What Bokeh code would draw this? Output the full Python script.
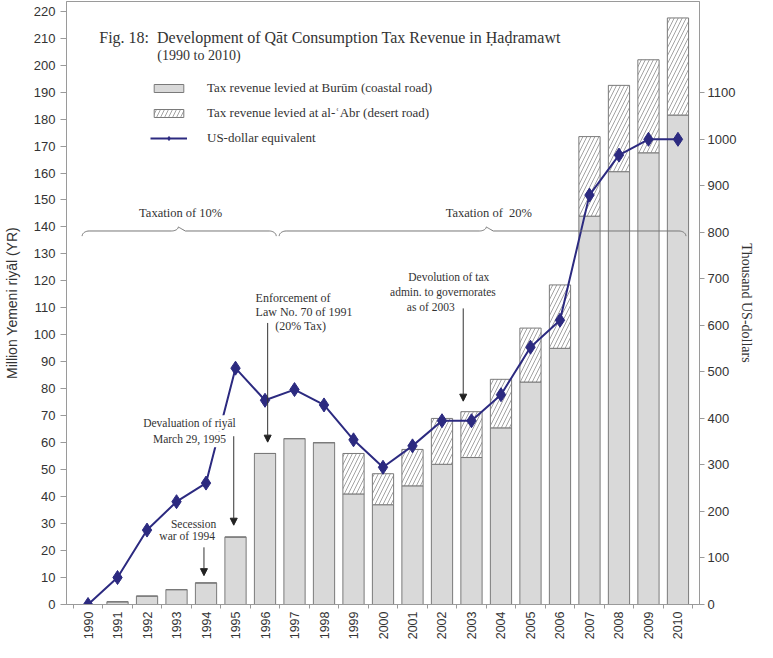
import numpy as np
from bokeh.plotting import figure
from bokeh.models import (Range1d, LinearAxis, FixedTicker, Label, Arrow, NormalHead,
                          Legend, LegendItem, ColumnDataSource)
from bokeh.embed import file_html
from bokeh.resources import INLINE

# ---------------- data ----------------
years = list(range(1990, 2011))
burum = [0, 1, 3.1, 5.5, 8, 25, 56, 61.5, 60, 41, 37, 44, 52, 54.5, 65.5, 82.5, 95,
         144, 160.5, 167.5, 181.5]                      # Million YR, coastal road
abr = [0, 0, 0, 0, 0, 0, 0, 0, 0, 15, 11.5, 13.5, 17, 17, 18, 20, 23.5,
       29.5, 32, 34.5, 36]                              # Million YR, desert road
usd = [0, 58, 160, 221, 261, 508, 439, 462, 429, 354, 295, 341, 395, 395, 451,
       553, 611, 880, 966, 1000, 1000]                  # Thousand US-dollars
left_ticks = list(range(0, 230, 10))
right_ticks = list(range(0, 1200, 100))

total = [b + a for b, a in zip(burum, abr)]
src = ColumnDataSource(dict(year=years, burum=burum, total=total, usd=usd))

SERIF = "Liberation Serif"
SANS = "Liberation Sans"
TXT = "#333333"
AX = "#9a9a9a"

Y_END = 223.6
RATIO = 5.797
X0, X1 = 1989.27, 2010.73

p = figure(width=757, height=642, output_backend="svg", toolbar_location=None,
           x_range=Range1d(X0, X1), y_range=Range1d(0, Y_END),
           min_border_left=62, min_border_right=50, min_border_top=1, min_border_bottom=38)
p.extra_y_ranges = {"usd": Range1d(0, Y_END * RATIO)}
p.xgrid.visible = False
p.ygrid.visible = False
p.outline_line_color = AX
p.background_fill_color = "white"
p.border_fill_color = "white"

# x axis
xax = p.xaxis[0]
xax.ticker = FixedTicker(ticks=years, minor_ticks=[y - 0.5 for y in years] + [2010.5])
xax.major_tick_line_color = None
xax.major_tick_in = 0
xax.major_tick_out = 0
xax.minor_tick_line_color = AX
xax.minor_tick_in = 0
xax.minor_tick_out = 4
xax.axis_line_color = AX
xax.major_label_orientation = np.pi / 2
xax.major_label_text_font = SANS
xax.major_label_text_font_size = "12.5px"
xax.major_label_text_color = TXT
xax.major_label_standoff = 3

# left axis
yax = p.yaxis[0]
yax.ticker = FixedTicker(ticks=left_ticks)
yax.minor_tick_line_color = None
yax.major_tick_in = 0
yax.major_tick_out = 6
yax.major_tick_line_color = AX
yax.axis_line_color = AX
yax.major_label_text_font = SANS
yax.major_label_text_font_size = "13px"
yax.major_label_text_color = TXT
yax.major_label_standoff = 5
yax.axis_label = "Million Yemeni riyāl (YR)"
yax.axis_label_text_font = SANS
yax.axis_label_text_font_style = "normal"
yax.axis_label_text_font_size = "14px"
yax.axis_label_text_color = TXT
yax.axis_label_standoff = 11

# right axis
rax = LinearAxis(y_range_name="usd", ticker=FixedTicker(ticks=right_ticks))
rax.minor_tick_line_color = None
rax.major_tick_in = 0
rax.major_tick_out = 5
rax.major_tick_line_color = AX
rax.axis_line_color = AX
rax.major_label_text_font = SANS
rax.major_label_text_font_size = "13px"
rax.major_label_text_color = TXT
rax.major_label_standoff = 3
rax.axis_label = "Thousand US-dollars"
rax.axis_label_text_font = SERIF
rax.axis_label_text_font_style = "normal"
rax.axis_label_text_font_size = "14px"
rax.axis_label_text_color = TXT
rax.axis_label_standoff = 0
p.add_layout(rax, "right")

# bars
r1 = p.vbar(x="year", top="burum", bottom=0, width=0.72, source=src,
            fill_color="#d9d9d9", line_color="#7a7a7a", line_width=1)
r2 = p.vbar(x="year", top="total", bottom="burum", width=0.72, source=src,
            fill_color="white", hatch_pattern="/", hatch_color="#8c8c8c",
            hatch_scale=8, hatch_weight=0.8, line_color="#7a7a7a", line_width=1)

# USD line
NAVY = "#2c2a80"
rl = p.line(x="year", y="usd", source=src, y_range_name="usd", line_color=NAVY, line_width=2)
rs = p.scatter(x="year", y="usd", source=src, y_range_name="usd", marker="diamond",
               size=14, fill_color=NAVY, line_color=NAVY)

# legend
leg = Legend(items=[
    LegendItem(label="Tax revenue levied at Burūm (coastal road)", renderers=[r1]),
    LegendItem(label="Tax revenue levied at al-ʿAbr (desert road)", renderers=[r2]),
    LegendItem(label="US-dollar equivalent", renderers=[rl, rs]),
], location=(84, 456), glyph_width=37, glyph_height=10, label_height=20,
    label_standoff=20, spacing=5, padding=0, margin=0,
    border_line_color=None, background_fill_alpha=0,
    label_text_font=SERIF, label_text_font_size="13px", label_text_color=TXT)
p.add_layout(leg, "center")

def lab(x, y, t, size="12px", align="left", bg=None, font=SERIF, angle=0):
    kw = dict(x=x, y=y, text=t, text_font=font, text_font_size=size, angle=angle,
              text_color=TXT, text_align=align, text_baseline="middle")
    if bg:
        kw.update(background_fill_color=bg, padding=2)
    p.add_layout(Label(**kw))

# title
NB = "\u00a0"
lab(1990.38, 210.2, "Fig. 18:" + NB + NB + "Development of Qāt Consumption Tax Revenue in Ḥaḍramawt", "16px")
lab(1992.35, 203.5, "(1990 to 2010)", "14px")

# braces
SX = 29.6
def brace(x0, x1, xm, yb, h_end, h_mid):
    e = 7 / SX
    t = np.linspace(0, np.pi / 2, 10)
    xs, ys = [], []
    xs += list(x0 + e * (1 - np.cos(t))); ys += list(yb - h_end + h_end * np.sin(t))
    xs += list(xm - e + e * np.sin(t)); ys += list(yb + h_mid * (1 - np.cos(t)))
    xs += list(xm + e * (1 - np.cos(t))); ys += list(yb + h_mid * np.cos(t))
    xs += list(x1 - e + e * np.sin(t)); ys += list(yb - h_end * (1 - np.cos(t)))
    p.line(xs, ys, line_color="#777777", line_width=1)

brace(1989.80, 1996.38, 1993.06, 138.5, 1.9, 1.5)
brace(1996.48, 2010.27, 2003.50, 138.5, 1.9, 1.5)
lab(1993.14, 145.2, "Taxation of 10%", "12.5px", "center")
lab(2003.59, 145.2, "Taxation of" + NB + NB + "20%", "12.5px", "center")

# annotations
lab(1995.68, 113.6, "Enforcement of", "12px")
lab(1995.68, 108.5, "Law No. 70 of 1991", "12px")
lab(1997.21, 103.3, "(20% Tax)", "12px", "center")
lab(1993.44, 67.2, "Devaluation of riyāl", "11.5px", "center", bg="white")
lab(1993.44, 61.3, "March 29, 1995", "11.5px", "center", bg="white")
lab(1993.58, 30.0, "Secession", "11.5px", "center")
lab(1993.36, 25.4, "war of 1994", "11.5px", "center")
lab(2002.23, 121.3, "Devolution of tax", "11.5px", "center")
lab(2002.03, 115.8, "admin. to governorates", "11.5px", "center")
lab(2001.62, 110.3, "as of 2003", "11.5px", "center")

def arrow(x, y0, y1):
    p.add_layout(Arrow(x_start=x, y_start=y0, x_end=x, y_end=y1,
                       end=NormalHead(size=7, fill_color="#222222", line_color="#222222"),
                       line_color="#333333", line_width=1))

arrow(1996.09, 104.4, 60.2)
arrow(1994.94, 62.4, 29.4)
arrow(1993.93, 21.2, 10.7)
arrow(2002.72, 109.8, 75.4)

open("out.html", "w").write(file_html(p, INLINE))
